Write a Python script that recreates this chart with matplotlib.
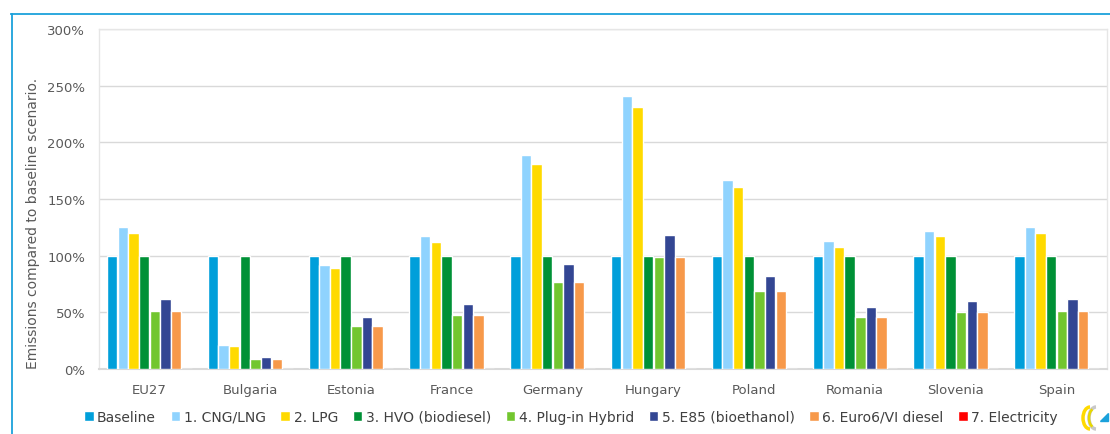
import matplotlib
matplotlib.use("Agg")
import matplotlib.pyplot as plt
from matplotlib.patches import Arc, Polygon
import numpy as np

countries = ["EU27", "Bulgaria", "Estonia", "France", "Germany", "Hungary",
             "Poland", "Romania", "Slovenia", "Spain"]
series = ["Baseline", "1. CNG/LNG", "2. LPG", "3. HVO (biodiesel)", "4. Plug-in Hybrid",
          "5. E85 (bioethanol)", "6. Euro6/VI diesel", "7. Electricity"]
baseline = [100, 100, 100, 100, 100, 100, 100, 100, 100, 100]
cng = [125, 21, 92, 117, 189, 241, 167, 113, 122, 125]
lpg = [120, 20, 89, 112, 181, 231, 161, 108, 117, 120]
hvo = [100, 100, 100, 100, 100, 100, 100, 100, 100, 100]
phev = [51, 9, 38, 48, 77, 98.5, 68.5, 46, 50, 51]
e85 = [61.5, 10.5, 45.5, 57.5, 92.5, 118, 82, 55, 60, 61.5]
euro6 = [51, 9, 38, 48, 77, 98.5, 68.5, 46, 50, 51]
electricity = [0, 0, 0, 0, 0, 0, 0, 0, 0, 0]
values = [baseline, cng, lpg, hvo, phev, e85, euro6, electricity]
colors = ["#009FDA", "#8FD3FE", "#FFDA00", "#009136", "#72C62F", "#334693", "#F7994A", "#FF0000"]
yticks = [0, 50, 100, 150, 200, 250, 300]

plt.rcParams['font.family'] = ['DejaVu Sans']
fig = plt.figure(figsize=(11.1, 4.35), dpi=100)
ax = fig.add_axes([99/1110, 1 - 370/435, (1107 - 99)/1110, (370 - 30)/435])

x = np.arange(len(countries))
slot = 0.1053
for j, (vals, c, name) in enumerate(zip(values, colors, series)):
    ax.bar(x + (j - 3.5) * slot, vals, width=slot * 0.98, color=c, edgecolor="white",
           linewidth=1.0, label=name, zorder=3)

ax.set_xlim(-0.5, len(countries) - 0.5)
ax.set_ylim(0, 300)
ax.set_yticks(yticks)
ax.set_yticklabels([f"{v}%" for v in yticks])
ax.set_xticks(x)
ax.set_xticklabels(countries)
ax.tick_params(axis="both", length=0, labelsize=9.5, labelcolor="#595959")
ax.tick_params(axis="x", pad=10)
ax.tick_params(axis="y", pad=10)
ax.grid(axis="y", color="#D9D9D9", linewidth=1.0, zorder=0)
for s in ["top", "right", "left"]:
    ax.spines[s].set_color("#E6E6E6")
    ax.spines[s].set_linewidth(1.0)
ax.spines["bottom"].set_color("#D9D9D9")
ax.spines["bottom"].set_linewidth(1.5)
ax.set_ylabel("Emissions compared to baseline scenario.", fontsize=10, color="#595959")
ax.yaxis.set_label_coords(-0.059, 0.43)

leg = fig.legend(loc="center", bbox_to_anchor=(571/1110, 1 - 418/435), ncol=8, frameon=False,
                 fontsize=10, handlelength=0.7, handleheight=0.7, handletextpad=0.25,
                 columnspacing=1.05, borderaxespad=0)
for t in leg.get_texts():
    t.set_color("#404040")

# outer frame (blue line top and left)
fig.add_artist(plt.Line2D([11/1110, 1.0], [1 - 14.5/435, 1 - 14.5/435], color="#1BA1DB", linewidth=1.3,
                          transform=fig.transFigure))
fig.add_artist(plt.Line2D([11.5/1110, 11.5/1110], [0.0, 1 - 14.5/435], color="#1BA1DB", linewidth=1.3,
                          transform=fig.transFigure))

# small logo
lax = fig.add_axes([1078/1110, 1 - 432/435, 32/1110, 26/435])
lax.set_xlim(0, 32)
lax.set_ylim(0, 26)
lax.axis("off")
lax.add_patch(Arc((12, 13), 14, 22, theta1=90, theta2=270, color="#FFDA00", linewidth=2.5))
lax.add_patch(Arc((18, 13), 14, 22, theta1=90, theta2=270, color="#C8C8C8", linewidth=2.5))
lax.add_patch(Arc((16, 13), 10, 18, theta1=100, theta2=260, color="#E8D800", linewidth=1.8))
lax.add_patch(Polygon([[22, 10], [30, 10], [30, 18]], closed=True, color="#1BA1DB"))

fig.savefig("out.png", dpi=100)
